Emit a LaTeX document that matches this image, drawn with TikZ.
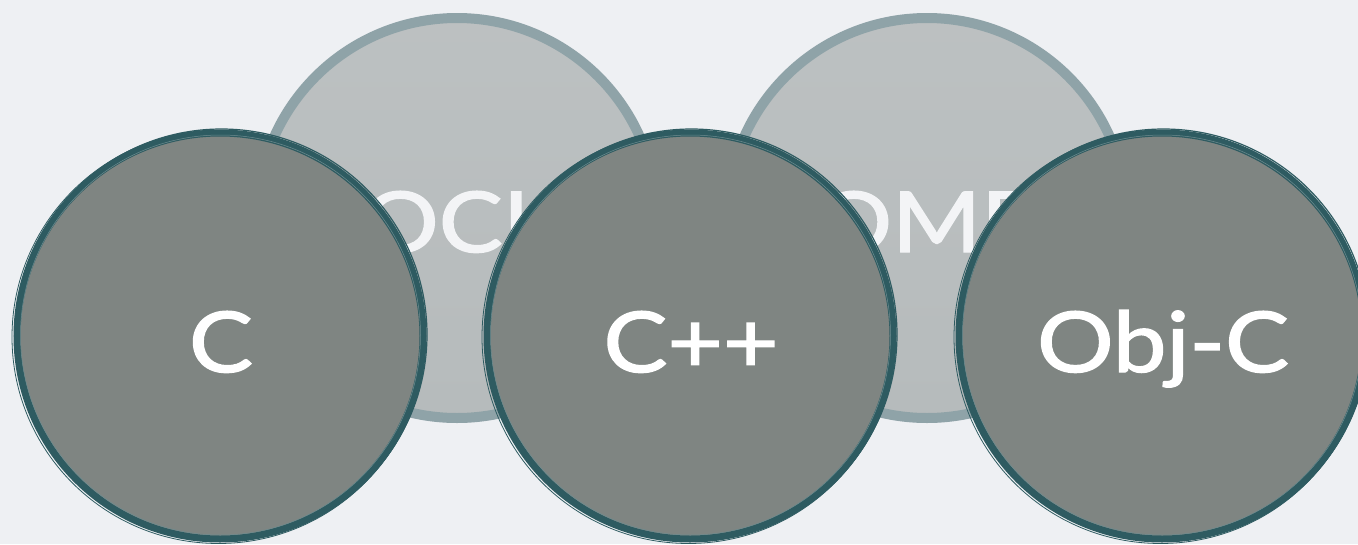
\documentclass[tikz,border=0pt]{standalone}
\usepackage{fontspec}
\setmainfont{Lato}
\newfontfamily\midfont[FakeBold=1.6]{Lato}
\definecolor{bgc}{HTML}{EEF0F3}
\definecolor{backfill}{HTML}{B6BBBC}
\definecolor{backring}{HTML}{8FA3A8}
\definecolor{frontfill}{HTML}{7F8582}
\definecolor{frontring}{HTML}{2E5B61}
\definecolor{backtext}{HTML}{F3F4F6}
\newcommand{\widetxt}[1]{\scalebox{1.14}[1]{#1}}
\tikzset{
  backc/.style={circle, minimum size=400pt, line width=10pt, draw=backring,
    top color=backfill!92!white, bottom color=backfill, inner sep=0pt},
  frontc/.style={circle, minimum size=406pt, line width=7pt, draw=frontring,
    fill=frontfill, inner sep=0pt},
  brush/.style={draw=frontring, line width=1.2pt},
  bigtext/.style={font=\fontsize{84}{84}\selectfont\midfont, text=white, inner sep=0pt, anchor=base},
  backlabel/.style={font=\fontsize{84}{84}\selectfont\midfont, text=backtext, inner sep=0pt, anchor=base}
}
\begin{document}
\begin{tikzpicture}[x=1pt,y=-1pt]
\fill[bgc] (0,0) rectangle (1358,544);
\useasboundingbox (0,0) rectangle (1358,544);
% back circles
\node[backc] (ocl) at (457,218) {};
\node[backc] (omp) at (927,218) {};
\node[backlabel] (ocllab) at (457,252) {\widetxt{OCL}};
\node[backlabel] (omplab) at (927,252) {\widetxt{OMP}};
% front circles
\foreach \n/\cx/\t in {c/220/C, cpp/690/C++, objc/1162/Obj-C}{
  \node[frontc] (\n) at (\cx,336) {};
  \draw[brush] (\cx+1.5,334.5) circle (205.5);
  \draw[brush, line width=0.8pt] (\cx-1.5,337) circle (206.5);
  \draw[frontring!70!white, line width=0.5pt] (\cx+0.5,335) circle (200);
  \node[bigtext] (\n lab) at (\cx+1,372) {\widetxt{\t}};
}
\end{tikzpicture}
\end{document}
